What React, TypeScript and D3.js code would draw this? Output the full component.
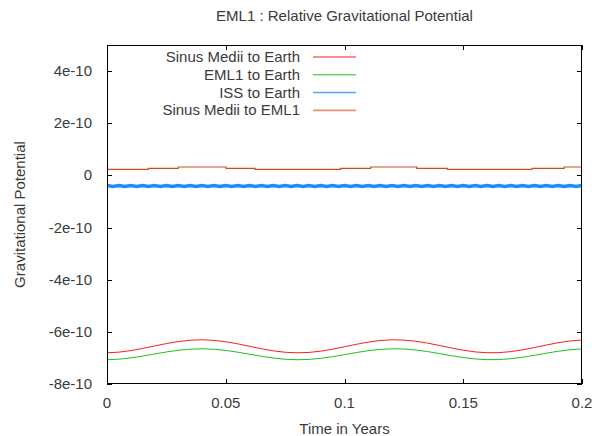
import React from "react";
import * as d3 from "d3";

// values are in units of 1e-10
const years = [
  0, 0.005, 0.01, 0.015, 0.02, 0.025, 0.03, 0.035, 0.04, 0.045,
  0.05, 0.055, 0.06, 0.065, 0.07, 0.075, 0.08, 0.085, 0.09, 0.095,
  0.1, 0.105, 0.11, 0.115, 0.12, 0.125, 0.13, 0.135, 0.14, 0.145,
  0.15, 0.155, 0.16, 0.165, 0.17, 0.175, 0.18, 0.185, 0.19, 0.195, 0.2,
];
const sinusMediiToEarth = [
  -6.804, -6.779, -6.72, -6.638, -6.543, -6.45, -6.372, -6.322, -6.305, -6.325,
  -6.379, -6.459, -6.553, -6.647, -6.728, -6.783, -6.805, -6.79, -6.741, -6.665,
  -6.572, -6.477, -6.393, -6.333, -6.306, -6.316, -6.36, -6.433, -6.524, -6.62,
  -6.705, -6.769, -6.802, -6.798, -6.759, -6.69, -6.6, -6.505, -6.416, -6.349, -6.311,
];
const eml1ToEarth = [
  -7.069, -7.048, -6.999, -6.93, -6.85, -6.772, -6.706, -6.664, -6.65, -6.667,
  -6.712, -6.779, -6.858, -6.937, -7.005, -7.052, -7.07, -7.057, -7.016, -6.952,
  -6.874, -6.794, -6.724, -6.674, -6.651, -6.659, -6.696, -6.757, -6.834, -6.914,
  -6.986, -7.04, -7.067, -7.064, -7.031, -6.973, -6.898, -6.818, -6.743, -6.687, -6.655,
];
const issYears = [
  0, 0.0025, 0.005, 0.0075, 0.01, 0.0125, 0.015, 0.0175, 0.02, 0.0225,
  0.025, 0.0275, 0.03, 0.0325, 0.035, 0.0375, 0.04, 0.0425, 0.045, 0.0475,
  0.05, 0.0525, 0.055, 0.0575, 0.06, 0.0625, 0.065, 0.0675, 0.07, 0.0725,
  0.075, 0.0775, 0.08, 0.0825, 0.085, 0.0875, 0.09, 0.0925, 0.095, 0.0975,
  0.1, 0.1025, 0.105, 0.1075, 0.11, 0.1125, 0.115, 0.1175, 0.12, 0.1225,
  0.125, 0.1275, 0.13, 0.1325, 0.135, 0.1375, 0.14, 0.1425, 0.145, 0.1475,
  0.15, 0.1525, 0.155, 0.1575, 0.16, 0.1625, 0.165, 0.1675, 0.17, 0.1725,
  0.175, 0.1775, 0.18, 0.1825, 0.185, 0.1875, 0.19, 0.1925, 0.195, 0.1975, 0.2,
];
const issToEarth = [
  -0.39, -0.43, -0.39, -0.43, -0.39, -0.43, -0.39, -0.43, -0.39, -0.43,
  -0.39, -0.43, -0.39, -0.43, -0.39, -0.43, -0.39, -0.43, -0.39, -0.43,
  -0.39, -0.43, -0.39, -0.43, -0.39, -0.43, -0.39, -0.43, -0.39, -0.43,
  -0.39, -0.43, -0.39, -0.43, -0.39, -0.43, -0.39, -0.43, -0.39, -0.43,
  -0.39, -0.43, -0.39, -0.43, -0.39, -0.43, -0.39, -0.43, -0.39, -0.43,
  -0.39, -0.43, -0.39, -0.43, -0.39, -0.43, -0.39, -0.43, -0.39, -0.43,
  -0.39, -0.43, -0.39, -0.43, -0.39, -0.43, -0.39, -0.43, -0.39, -0.43,
  -0.39, -0.43, -0.39, -0.43, -0.39, -0.43, -0.39, -0.43, -0.39, -0.43, -0.39,
];
// stepped series, each value holds until the next time
const emlYears = [0, 0.0174, 0.03, 0.0501, 0.0623, 0.0984, 0.111, 0.1304, 0.1433, 0.179, 0.1925, 0.2];
const sinusMediiToEml1 = [0.234, 0.272, 0.322, 0.272, 0.234, 0.272, 0.322, 0.272, 0.234, 0.272, 0.322, 0.322];

const xTicks = [0, 0.05, 0.1, 0.15, 0.2];
const xTickLabels = ["0", "0.05", "0.1", "0.15", "0.2"];
const yTicks = [-8, -6, -4, -2, 0, 2, 4];
const yTickLabels = ["-8e-10", "-6e-10", "-4e-10", "-2e-10", "0", "2e-10", "4e-10"];

const W = 598;
const H = 436;
const margin = { top: 45, right: 16, bottom: 52, left: 107 };
const font = "'Liberation Sans', Arial, sans-serif";
const textColor = "#3a3a3a";
const fs = 15;

const App = () => {
  const x = d3.scaleLinear().domain([0, 0.2]).range([margin.left, W - margin.right]);
  const y = d3.scaleLinear().domain([-8, 5]).range([H - margin.bottom, margin.top]);
  const [x0, x1] = x.range();
  const [y0, y1] = y.range();

  const line = d3.line<number>().x((_, i) => x(years[i])).y((d) => y(d));
  const issLine = d3.line<number>().x((_, i) => x(issYears[i])).y((d) => y(d));
  const stepLine = d3
    .line<number>()
    .x((_, i) => x(emlYears[i]))
    .y((d) => y(d))
    .curve(d3.curveStepAfter);

  const series = [
    { name: "Sinus Medii to Earth", color: "#ff1a1a", width: 1, d: line(sinusMediiToEarth), key: { c: "#ff1a1a", w: 1 } },
    { name: "EML1 to Earth", color: "#1fc01f", width: 1, d: line(eml1ToEarth), key: { c: "#1fc01f", w: 1 } },
    { name: "ISS to Earth", color: "#1a8cff", width: 3.5, d: issLine(issToEarth), key: { c: "#4da6ff", w: 1.5 } },
    { name: "Sinus Medii to EML1", color: "#c8501e", width: 1.2, d: stepLine(sinusMediiToEml1), key: { c: "#e0956e", w: 1.8 } },
  ];
  const tick = 5;

  return (
    <svg width={W} height={H} style={{ position: "absolute", left: 0, top: 0, background: "#fff" }} fontFamily={font}>
      <rect width={W} height={H} fill="#fff" />
      <text x={(x0 + x1) / 2} y={21} textAnchor="middle" fontSize={fs} fill={textColor}>
        EML1 : Relative Gravitational Potential
      </text>

      <defs>
        <clipPath id="plot">
          <rect x={x0} y={y1} width={x1 - x0} height={y0 - y1} />
        </clipPath>
      </defs>
      <g clipPath="url(#plot)">
        {series.map((s) => (
          <path key={s.name} d={s.d ?? ""} fill="none" stroke={s.color} strokeWidth={s.width} />
        ))}
      </g>

      {yTicks.map((t, i) => (
        <g key={t}>
          <line x1={x0} x2={x0 + tick} y1={Math.round(y(t)) + 0.5} y2={Math.round(y(t)) + 0.5} stroke="#000" />
          <line x1={x1 - tick} x2={x1} y1={Math.round(y(t)) + 0.5} y2={Math.round(y(t)) + 0.5} stroke="#000" />
          <text x={x0 - 15} y={y(t) + 5} textAnchor="end" fontSize={fs} fill={textColor}>
            {yTickLabels[i]}
          </text>
        </g>
      ))}
      {xTicks.map((t, i) => (
        <g key={t}>
          <line x1={Math.round(x(t)) + 0.5} x2={Math.round(x(t)) + 0.5} y1={y0} y2={y0 - tick} stroke="#000" />
          <line x1={Math.round(x(t)) + 0.5} x2={Math.round(x(t)) + 0.5} y1={y1} y2={y1 + tick} stroke="#000" />
          <text x={x(t)} y={y0 + 24} textAnchor="middle" fontSize={fs} fill={textColor}>
            {xTickLabels[i]}
          </text>
        </g>
      ))}

      <rect x={x0 + 0.5} y={y1 + 0.5} width={x1 - x0 - 1} height={y0 - y1 - 1} fill="none" stroke="#000" />

      {series.map((s, i) => {
        const ly = 57 + i * 17.8;
        return (
          <g key={s.name}>
            <text x={300} y={ly + 5} textAnchor="end" fontSize={fs} fill={textColor}>
              {s.name}
            </text>
            <line x1={313} x2={356} y1={ly} y2={ly} stroke={s.key.c} strokeWidth={s.key.w} />
          </g>
        );
      })}

      <text x={(x0 + x1) / 2} y={H - 2} textAnchor="middle" fontSize={fs} fill={textColor}>
        Time in Years
      </text>
      <text transform={`translate(25,${(y0 + y1) / 2}) rotate(-90)`} textAnchor="middle" fontSize={fs} fill={textColor}>
        Gravitational Potential
      </text>
    </svg>
  );
};

export default App;
